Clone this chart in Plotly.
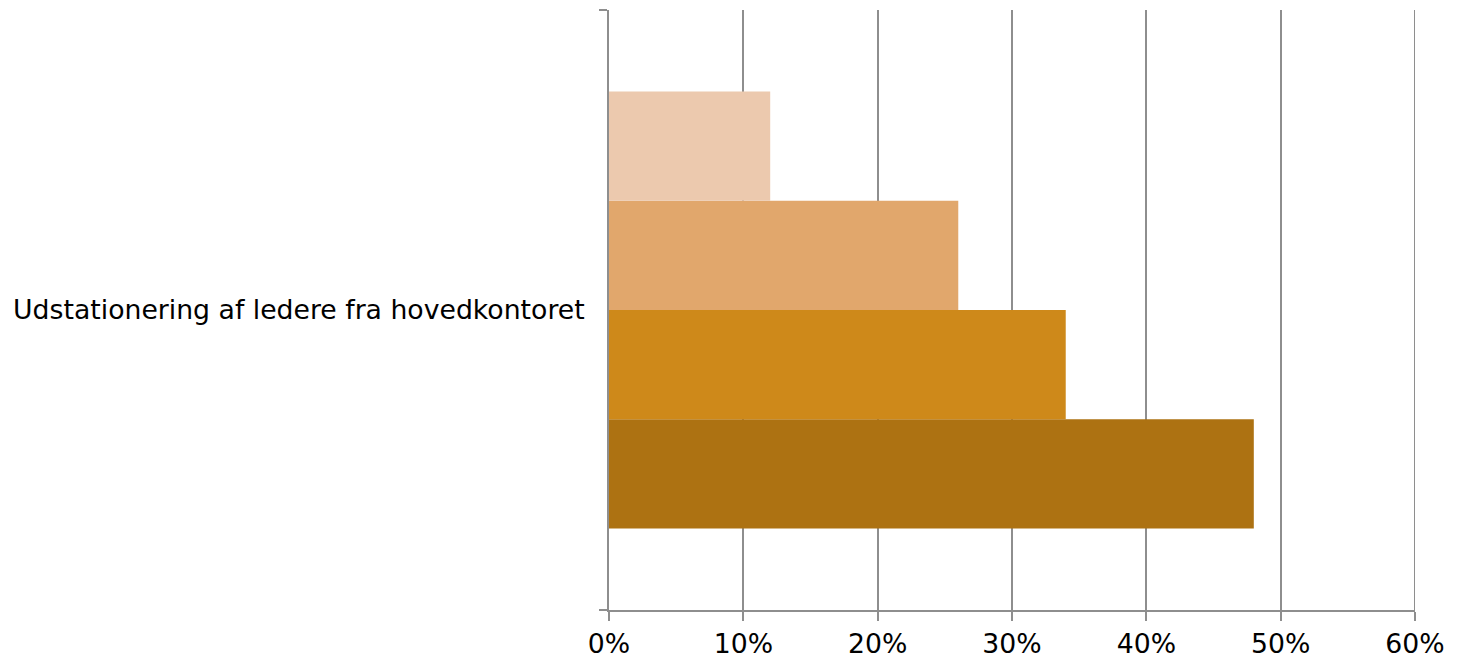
import plotly.graph_objects as go

# Single category, four series drawn as grouped horizontal bars
category = ["Udstationering af ledere fra hovedkontoret"]
series_names = ["Serie 1", "Serie 2", "Serie 3", "Serie 4"]
series_values = [48, 34, 26, 12]  # percent, listed bottom to top
series_colors = ["#AD7212", "#CE891A", "#E1A76C", "#ECC9AE"]
x_ticks = [0, 10, 20, 30, 40, 50, 60]
x_tick_labels = [f"{v}%" for v in x_ticks]

GRID = "#8e8e8e"
FONT = "Verdana, DejaVu Sans, sans-serif"

fig = go.Figure()
for name, val, col in zip(series_names, series_values, series_colors):
    fig.add_trace(go.Bar(
        y=category, x=[val], name=name, orientation="h",
        marker=dict(color=col, line=dict(width=0)),
        showlegend=False, hoverinfo="x+name",
    ))

fig.update_layout(
    width=1459, height=659,
    margin=dict(l=609, r=44, t=10, b=49),
    paper_bgcolor="white", plot_bgcolor="white",
    barmode="group", bargap=0.272, bargroupgap=0,
    font=dict(family=FONT, size=26.7, color="black"),
)
fig.update_xaxes(
    range=[0, 60], tickmode="array", tickvals=x_ticks, ticktext=x_tick_labels,
    showgrid=True, gridcolor=GRID, gridwidth=2,
    showline=True, linecolor=GRID, linewidth=2,
    ticks="outside", ticklen=9, tickwidth=2, tickcolor=GRID,
    zeroline=False, fixedrange=True, automargin=False,
)
fig.update_yaxes(
    type="category", tickson="boundaries",
    showgrid=False, showline=True, linecolor=GRID, linewidth=2,
    ticks="outside", ticklen=8, tickwidth=2, tickcolor=GRID,
    ticklabelstandoff=17, zeroline=False, fixedrange=True, automargin=False,
)

# gridline at the right end of the value axis (Plotly omits the edge one)
fig.add_shape(type="line", xref="x", yref="paper",
              x0=x_ticks[-1], x1=x_ticks[-1], y0=0, y1=1,
              line=dict(color=GRID, width=2), layer="below")

fig.write_html("out.html")
